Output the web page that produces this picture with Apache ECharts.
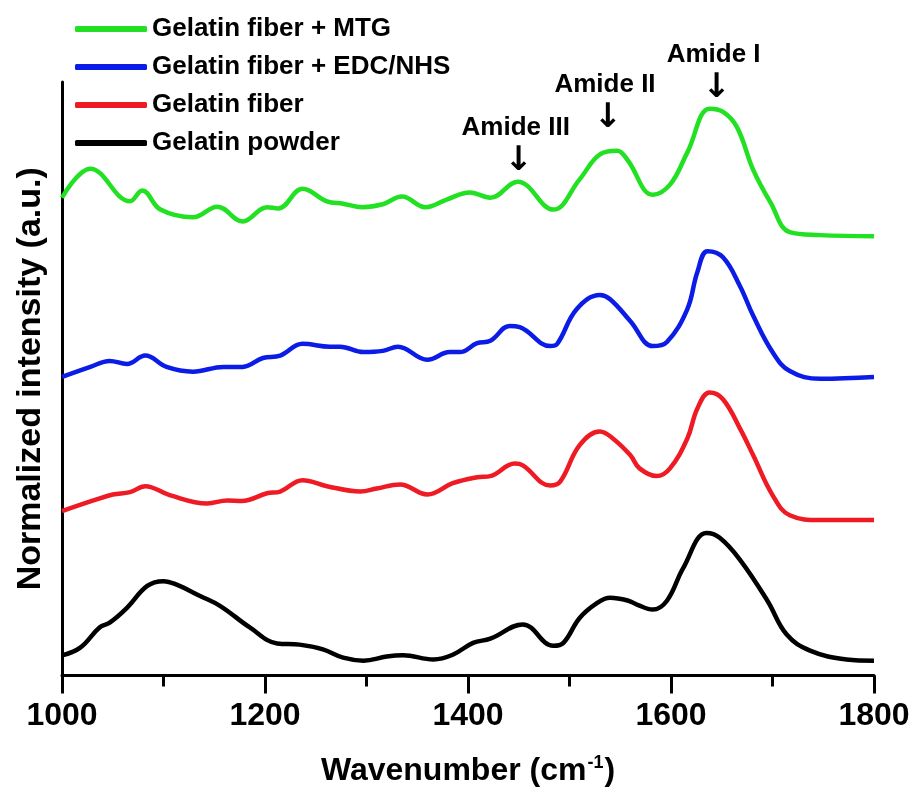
<!DOCTYPE html>
<html>
<head>
<meta charset="utf-8">
<script src="https://cdn.jsdelivr.net/npm/echarts@6/dist/echarts.min.js"></script>
<style>
html,body{margin:0;padding:0;background:#fff;}
#main{width:914px;height:792px;}
</style>
</head>
<body>
<div id="main"></div>
<script>
// 数据：[波数, 归一化强度]
var seriesNames = ['Gelatin fiber + MTG', 'Gelatin fiber + EDC/NHS', 'Gelatin fiber', 'Gelatin powder'];
var seriesColors = ['#22e022', '#0b1ce6', '#ef1b24', '#000000'];

var mtgData = [
  [1000,80.5],[1028,85.4],[1067,79.9],[1079,81.7],[1097,78.5],[1129,77.2],[1153,79.0],[1178,76.5],
  [1202,78.9],[1213,78.7],[1237,82.0],[1261,79.9],[1277,79.5],[1296,78.9],[1316,79.4],[1335,80.7],
  [1358,78.9],[1379,80.2],[1402,81.4],[1422,80.5],[1449,83.2],[1484,78.5],[1510,83.6],[1530,87.8],
  [1547,88.4],[1557,86.9],[1582,81.0],[1599,82.7],[1616,88.1],[1638,95.5],[1651,95.0],[1665,92.4],
  [1681,85.2],[1698,79.7],[1717,74.7],[1747,74.2],[1800,74.0]
];
var edcData = [
  [1000,50.3],[1028,52.0],[1047,53.0],[1064,52.5],[1082,53.9],[1103,52.0],[1129,51.2],[1159,52.0],
  [1178,52.0],[1198,53.5],[1215,53.9],[1237,55.9],[1264,55.4],[1274,55.4],[1297,54.5],[1316,54.7],
  [1331,55.4],[1360,53.2],[1382,54.5],[1392,54.5],[1409,56.0],[1422,56.4],[1441,58.9],[1451,58.7],
  [1481,55.5],[1488,55.9],[1507,61.7],[1530,64.1],[1540,63.4],[1560,59.7],[1582,55.5],[1596,56.2],
  [1616,61.7],[1626,68.0],[1636,71.5],[1651,70.5],[1668,65.6],[1681,60.6],[1700,54.5],[1717,51.3],
  [1747,50.0],[1800,50.3]
];
var fiberData = [
  [1000,27.7],[1031,29.5],[1050,30.5],[1067,30.9],[1082,31.9],[1106,30.4],[1143,29.0],[1163,29.5],
  [1177,29.4],[1202,30.7],[1215,31.0],[1237,32.9],[1261,31.9],[1294,31.0],[1310,31.5],[1333,32.2],
  [1360,30.5],[1385,32.4],[1409,33.4],[1422,33.6],[1446,35.7],[1454,35.4],[1481,32.0],[1491,32.7],
  [1510,38.8],[1530,41.1],[1543,39.9],[1560,37.1],[1569,34.9],[1586,33.6],[1599,34.9],[1616,39.9],
  [1626,45.0],[1638,47.7],[1651,46.6],[1668,41.6],[1681,37.1],[1700,30.4],[1717,27.0],[1747,26.2],
  [1800,26.2]
];
var powderData = [
  [1000,3.4],[1018,4.7],[1037,8.1],[1047,8.9],[1064,11.4],[1084,15.1],[1100,15.9],[1113,15.3],
  [1136,13.4],[1156,11.7],[1185,8.1],[1212,5.4],[1234,5.2],[1257,4.4],[1277,3.0],[1297,2.5],
  [1320,3.2],[1336,3.4],[1366,2.7],[1385,3.5],[1405,5.5],[1422,6.2],[1454,8.6],[1484,5.0],
  [1494,5.5],[1510,9.7],[1527,12.2],[1540,13.1],[1558,12.6],[1567,11.9],[1582,11.1],[1596,12.6],
  [1612,18.1],[1635,24.0],[1648,23.2],[1668,19.5],[1695,12.6],[1714,6.9],[1737,4.2],[1773,2.7],
  [1800,2.5]
];
var allData = [mtgData, edcData, fiberData, powderData];

// 标注：名称、波数、强度位置
var annoNames = ['Amide III', 'Amide II', 'Amide I'];
var annoWave = [1447, 1535, 1642];
var annoLevel = [92.3, 99.5, 104.6];

var font = "'Liberation Sans', Arial, sans-serif";
var myChart = echarts.init(document.getElementById('main'));

var seriesList = [];
for (var i = 0; i < seriesNames.length; i++) {
  seriesList.push({
    name: seriesNames[i],
    type: 'line',
    data: allData[i],
    smooth: 0.4,
    symbol: 'none',
    lineStyle: {color: seriesColors[i], width: 4.5},
    itemStyle: {color: seriesColors[i]},
    z: 10 - i
  });
}

var option = {
  animation: false,
  backgroundColor: '#fff',
  grid: {left: 62, right: 40, top: 82, bottom: 114},
  legend: {
    data: seriesNames,
    orient: 'vertical',
    left: 75,
    top: 16,
    padding: 0,
    itemWidth: 72,
    itemHeight: 6,
    itemGap: 12,
    icon: 'roundRect',
    textStyle: {fontFamily: font, fontWeight: 'bold', fontSize: 26, color: '#000'}
  },
  xAxis: {
    type: 'value',
    min: 1000,
    max: 1800,
    interval: 200,
    name: '{a|Wavenumber (cm}{s|-1}{a|)}',
    nameLocation: 'middle',
    nameGap: 79,
    nameTextStyle: {
      rich: {
        a: {fontFamily: font, fontWeight: 'bold', fontSize: 32, color: '#000'},
        s: {fontFamily: font, fontWeight: 'bold', fontSize: 18, color: '#000', padding: [0, 1, 15, 1]}
      }
    },
    axisLine: {lineStyle: {color: '#000', width: 3}},
    axisTick: {length: 18, lineStyle: {color: '#000', width: 3}},
    minorTick: {show: true, splitNumber: 2, length: 11, lineStyle: {color: '#000', width: 3}},
    axisLabel: {
      fontFamily: font, fontWeight: 'bold', fontSize: 32, color: '#000', margin: 25,
      formatter: function (v) { return String(v); }
    },
    splitLine: {show: false}
  },
  yAxis: {
    type: 'value',
    min: 0,
    max: 100,
    name: 'Normalized intensity (a.u.)',
    nameLocation: 'middle',
    nameGap: 14,
    nameTextStyle: {fontFamily: font, fontWeight: 'bold', fontSize: 34, color: '#000'},
    axisLine: {show: true, lineStyle: {color: '#000', width: 3}},
    axisTick: {show: false},
    axisLabel: {show: false},
    splitLine: {show: false}
  },
  series: seriesList
};

myChart.setOption(option);

// 标注文字和箭头
var graphics = [];
for (var k = 0; k < annoNames.length; k++) {
  var p = myChart.convertToPixel({gridIndex: 0}, [annoWave[k], annoLevel[k]]);
  graphics.push({
    type: 'text',
    x: p[0], y: p[1],
    style: {text: annoNames[k], fontFamily: font, fontWeight: 'bold', fontSize: 26,
      fill: '#000', align: 'center', verticalAlign: 'middle'}
  });
  graphics.push({
    type: 'text',
    x: p[0] + 3, y: p[1] + 33,
    style: {text: '↓', fontFamily: "'DejaVu Sans', sans-serif", fontWeight: 'bold', fontSize: 34,
      fill: '#000', align: 'center', verticalAlign: 'middle'}
  });
}
myChart.setOption({graphic: graphics});
</script>
</body>
</html>
